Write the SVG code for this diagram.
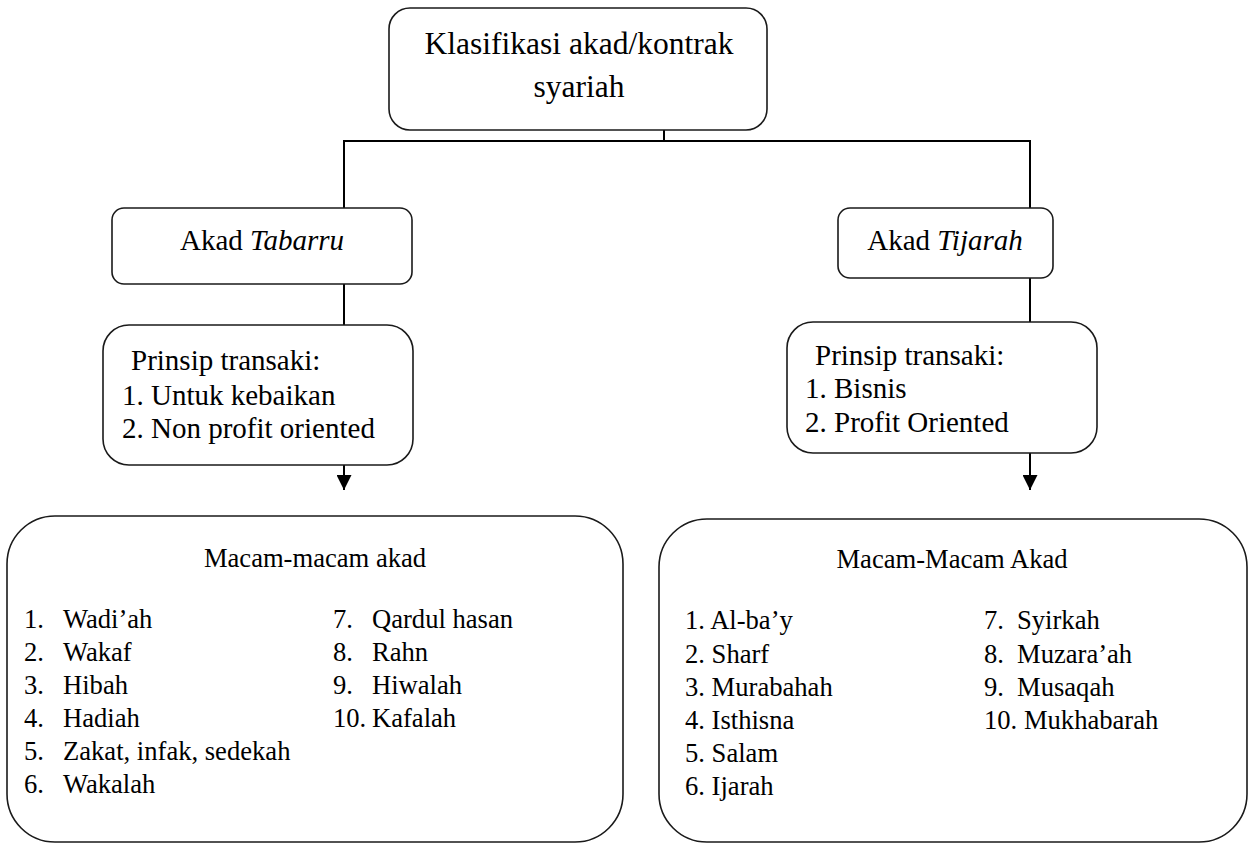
<svg xmlns="http://www.w3.org/2000/svg" width="1254" height="844" viewBox="0 0 1254 844" font-family="Liberation Serif, DejaVu Serif, serif">
<defs>
<style>
.box{fill:#fff;stroke:#1a1a1a;stroke-width:1.6}
.ln{fill:none;stroke:#000;stroke-width:2}
.tx{font-family:'Liberation Serif',serif;fill:#000}
.t1{font-size:31.5px}
.t2{font-size:29px}
.t3{font-size:26.6px}
.mid{text-anchor:middle}
</style>
<marker id="arr" viewBox="0 0 10 10" refX="10" refY="5" markerWidth="15" markerHeight="15" markerUnits="userSpaceOnUse" orient="auto">
<path d="M0,0 L10,5 L0,10 Z" fill="#000"/>
</marker>
</defs>
<rect width="1254" height="844" fill="#fff"/>
<g id="connectors">
<line class="ln" x1="664" y1="130" x2="664" y2="141"/>
<polyline class="ln" points="344,208 344,141 1030,141 1030,208"/>
<line class="ln" x1="344" y1="284" x2="344" y2="325"/>
<line class="ln" x1="1030" y1="278" x2="1030" y2="322"/>
<line class="ln" x1="344" y1="465" x2="344" y2="490" marker-end="url(#arr)"/>
<line class="ln" x1="1030" y1="453" x2="1030" y2="490" marker-end="url(#arr)"/>
</g>
<g id="root" class="tx">
<rect class="box" x="389" y="8" width="378" height="122" rx="21"/>
<text class="t1 mid" x="579" y="54">Klasifikasi akad/kontrak</text>
<text class="t1 mid" x="579" y="97">syariah</text>
</g>
<g id="tabarru" class="tx">
<rect class="box" x="112" y="208" width="300" height="76" rx="12"/>
<text class="t2 mid" x="262" y="250">Akad <tspan font-style="italic">Tabarru</tspan></text>
</g>
<g id="tijarah" class="tx">
<rect class="box" x="838" y="208" width="215" height="70" rx="12"/>
<text class="t2 mid" x="945" y="250">Akad <tspan font-style="italic">Tijarah</tspan></text>
</g>
<g id="prinsip-tabarru" class="tx">
<rect class="box" x="103" y="325" width="310" height="140" rx="26"/>
<text class="t2" x="131" y="370">Prinsip transaki:</text>
<text class="t2" x="122" y="405">1. Untuk kebaikan</text>
<text class="t2" x="122" y="438">2. Non profit oriented</text>
</g>
<g id="prinsip-tijarah" class="tx">
<rect class="box" x="787" y="322" width="310" height="131" rx="26"/>
<text class="t2" x="815" y="365">Prinsip transaki:</text>
<text class="t2" x="805" y="398">1. Bisnis</text>
<text class="t2" x="805" y="432">2. Profit Oriented</text>
</g>
<g id="macam-tabarru" class="tx">
<rect class="box" x="7" y="516" width="616" height="326" rx="48"/>
<text class="t3 mid" x="315" y="567">Macam-macam akad</text>
<g class="t3">
<text x="24" y="628">1.</text><text x="63" y="628">Wadi’ah</text>
<text x="24" y="661">2.</text><text x="63" y="661">Wakaf</text>
<text x="24" y="694">3.</text><text x="63" y="694">Hibah</text>
<text x="24" y="727">4.</text><text x="63" y="727">Hadiah</text>
<text x="24" y="760">5.</text><text x="63" y="760">Zakat, infak, sedekah</text>
<text x="24" y="793">6.</text><text x="63" y="793">Wakalah</text>
<text x="333" y="628">7.</text><text x="372" y="628">Qardul hasan</text>
<text x="333" y="661">8.</text><text x="372" y="661">Rahn</text>
<text x="333" y="694">9.</text><text x="372" y="694">Hiwalah</text>
<text x="333" y="727">10.</text><text x="372" y="727">Kafalah</text>
</g>
</g>
<g id="macam-tijarah" class="tx">
<rect class="box" x="659" y="519" width="588" height="323" rx="48"/>
<text class="t3 mid" x="952" y="568">Macam-Macam Akad</text>
<g class="t3">
<text x="685" y="629">1. Al-ba’y</text>
<text x="685" y="663">2. Sharf</text>
<text x="685" y="696">3. Murabahah</text>
<text x="685" y="729">4. Isthisna</text>
<text x="685" y="762">5. Salam</text>
<text x="685" y="795">6. Ijarah</text>
<text x="984" y="629">7.</text><text x="1017" y="629">Syirkah</text>
<text x="984" y="663">8.</text><text x="1017" y="663">Muzara’ah</text>
<text x="984" y="696">9.</text><text x="1017" y="696">Musaqah</text>
<text x="984" y="729">10. Mukhabarah</text>
</g>
</g>
</svg>
